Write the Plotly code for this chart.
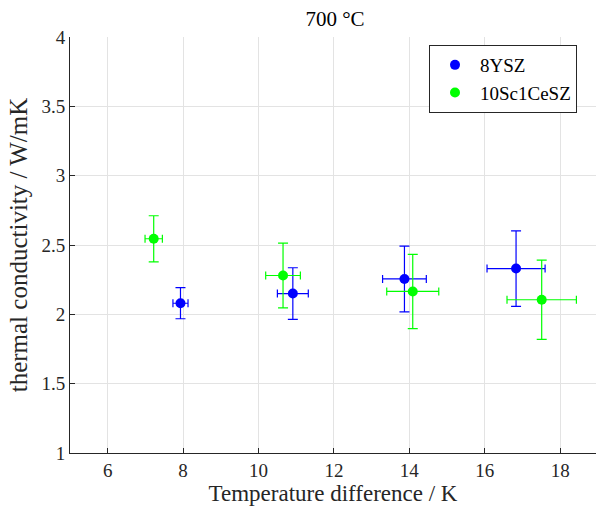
import plotly.graph_objects as go

# Data
ysz_x = [7.93, 10.91, 13.87, 16.83]
ysz_y = [2.08, 2.15, 2.255, 2.33]
ysz_xerr = [0.2, 0.41, 0.58, 0.77]
ysz_yerr = [0.112, 0.186, 0.237, 0.272]

sc_x = [7.22, 10.65, 14.09, 17.51]
sc_y = [2.545, 2.28, 2.165, 2.105]
sc_xerr = [0.23, 0.46, 0.69, 0.92]
sc_yerr = [0.166, 0.234, 0.268, 0.286]

x_ticks = [6, 8, 10, 12, 14, 16, 18]
y_ticks = [1, 1.5, 2, 2.5, 3, 3.5, 4]

FONT = "Liberation Serif"

fig = go.Figure()
for name, xs, ys, xe, ye, col in [
    ("8YSZ", ysz_x, ysz_y, ysz_xerr, ysz_yerr, "#0000ff"),
    ("10Sc1CeSZ", sc_x, sc_y, sc_xerr, sc_yerr, "#00ff00"),
]:
    fig.add_trace(go.Scatter(
        x=xs, y=ys, mode="markers", name=name,
        marker=dict(color=col, size=10),
        error_y=dict(type="data", array=ye, color=col, thickness=1.2, width=5),
        error_x=dict(type="data", array=xe, color=col, thickness=1.2, width=4),
    ))

axis_common = dict(
    showline=True, linecolor="#262626", linewidth=1, mirror=False,
    ticks="inside", ticklen=5, tickcolor="#262626",
    showgrid=True, gridcolor="#e3e3e3", gridwidth=1, zeroline=False,
    tickfont=dict(family=FONT, size=19, color="#262626"),
)

fig.update_layout(
    width=596, height=506,
    margin=dict(l=70, r=0, t=37, b=53),
    plot_bgcolor="white", paper_bgcolor="white",
    title=dict(text="700 °C", x=(70 + 265) / 596, xanchor="center", y=1 - 19 / 506, yanchor="middle",
               font=dict(family=FONT, size=21, color="black")),
    xaxis=dict(range=[5, 18.95], tickvals=x_ticks,
               title=dict(text="Temperature difference / K", standoff=4,
                          font=dict(family=FONT, size=23, color="#262626")),
               **axis_common),
    yaxis=dict(range=[1, 4], tickvals=y_ticks,
               title=dict(text="thermal conductivity / W/mK", standoff=6,
                          font=dict(family=FONT, size=25, color="#262626")),
               **axis_common),
    legend=dict(x=(429 - 70) / 526, y=1 - (45 - 37) / 416, xanchor="left", yanchor="top",
                bgcolor="white", bordercolor="#262626", borderwidth=1,
                font=dict(family=FONT, size=19, color="black"),
                tracegroupgap=0, itemwidth=40),
    showlegend=True,
)

fig.write_html("out.html")
